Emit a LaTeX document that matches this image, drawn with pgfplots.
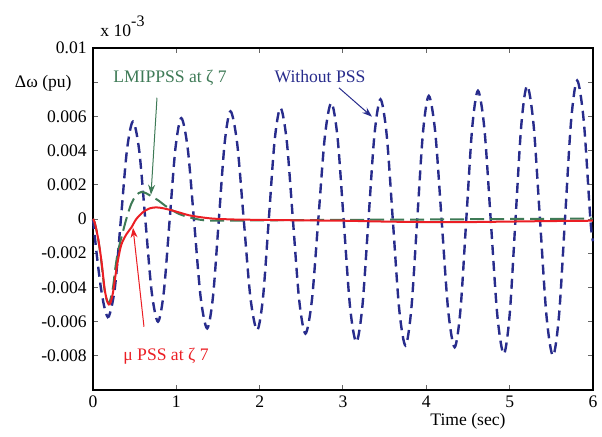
\documentclass[border=0pt]{standalone}
\usepackage{fontspec}
\setmainfont{Liberation Serif}
\usepackage{pgfplots}
\pgfplotsset{compat=1.18}
\usetikzlibrary{arrows.meta}

\definecolor{nopss}{RGB}{40,44,140}
\definecolor{lmi}{RGB}{62,122,86}
\definecolor{mupss}{RGB}{235,30,36}

\begin{document}
\fontsize{8.8}{10.5}\selectfont
\begin{tikzpicture}[every node/.append style={font=\fontsize{8.8}{10.5}\selectfont\rmfamily}]
\useasboundingbox (-46.5pt,-23pt) rectangle (254.5pt,195pt);
\begin{axis}[
  at={(0,0)}, anchor=south west,
  scale only axis, width=250pt, height=171pt,
  xmin=0, xmax=6, ymin=-0.01, ymax=0.01,
  xtick={0,1,2,3,4,5,6}, xticklabels={0,1,2,3,4,5,6},
  ytick={-0.008,-0.006,-0.004,-0.002,0,0.002,0.004,0.006,0.008,0.01},
  yticklabels={-0.008,-0.006,-0.004,-0.002,0,0.002,0.004,0.006,,0.01},
  scaled y ticks=false,
  tick align=inside, major tick length=2.5pt,
  tick style={black!60,line width=0.5pt},
  axis line style={line width=0.6pt},
  clip=false,
]
% without PSS
\addplot[nopss, line width=1.2pt, dash pattern=on 5pt off 3pt, smooth] coordinates {
(0,0) (0.0475,-0.00218) (0.095,-0.00403) (0.1425,-0.00527) (0.19,-0.0057)
(0.2625,-0.00403) (0.335,0) (0.4075,0.00403) (0.48,0.0057)
(0.555,0.00399) (0.63,-0.00015) (0.705,-0.00429) (0.78,-0.0060)
(0.85,-0.00426) (0.92,-0.00005) (0.99,0.00416) (1.06,0.0059)
(1.1375,0.00410) (1.215,-0.00025) (1.2925,-0.00460) (1.37,-0.0064)
(1.44,-0.00454) (1.51,-0.00005) (1.58,0.00444) (1.65,0.0063)
(1.73,0.00443) (1.81,-0.0001) (1.89,-0.00463) (1.97,-0.0065)
(2.04,-0.00460) (2.11,0) (2.18,0.00460) (2.25,0.0065)
(2.325,0.00457) (2.40,-0.0001) (2.475,-0.00477) (2.55,-0.0067)
(2.6275,-0.00472) (2.705,0.00005) (2.7825,0.00482) (2.86,0.0068)
(2.935,0.00475) (3.01,-0.0002) (3.085,-0.00515) (3.16,-0.0072)
(3.2325,-0.00512) (3.305,-0.0001) (3.3775,0.00492) (3.45,0.0070)
(3.525,0.00489) (3.60,-0.0002) (3.675,-0.00529) (3.75,-0.0074)
(3.82,-0.00526) (3.89,-0.0001) (3.96,0.00506) (4.03,0.0072)
(4.1075,0.00505) (4.185,-0.00015) (4.2625,-0.00535) (4.34,-0.0075)
(4.41,-0.00530) (4.48,0) (4.55,0.00530) (4.62,0.0075)
(4.6975,0.00525) (4.775,-0.0002) (4.8525,-0.00565) (4.93,-0.0079)
(5.00,-0.00560) (5.07,-0.00005) (5.14,0.00550) (5.21,0.0078)
(5.2875,0.00549) (5.365,-0.0001) (5.4425,-0.00569) (5.52,-0.0080)
(5.5925,-0.00564) (5.665,0.00005) (5.7375,0.00574) (5.81,0.0081)
(5.89,0.0057) (5.97,-0.0001) (6.0,-0.0013)
};
% LMI PSS
\addplot[lmi, line width=1pt, dash pattern=on 7pt off 3pt, smooth] coordinates {
(0,0) (0.02,-0.0002) (0.06,-0.0011) (0.10,-0.0025) (0.14,-0.0042) (0.17,-0.0048)
(0.19,-0.0049) (0.21,-0.0047) (0.24,-0.0040) (0.27,-0.0028) (0.30,-0.0019)
(0.34,-0.0011) (0.40,0.0) (0.46,0.0009) (0.52,0.0014) (0.58,0.00158)
(0.64,0.0015) (0.71,0.0013) (0.78,0.0011) (0.86,0.0008) (0.94,0.00054)
(1.04,0.00028) (1.14,0.00012) (1.24,0.0) (1.34,-0.00008) (1.5,-0.0001)
(2.0,-0.00008) (3.0,-0.00005) (4.0,-0.00003) (5.0,0.0) (6.0,0.00002)
};
% mu PSS
\addplot[mupss, line width=1pt, smooth] coordinates {
(0,0) (0.02,-0.0002) (0.06,-0.0011) (0.10,-0.0024) (0.14,-0.0041) (0.17,-0.0048)
(0.19,-0.0050) (0.21,-0.0049) (0.24,-0.0043) (0.27,-0.0033) (0.30,-0.0024)
(0.34,-0.0015) (0.40,-0.0009) (0.46,-0.0005) (0.52,0.0) (0.60,0.0004)
(0.68,0.00062) (0.76,0.00068) (0.85,0.00062) (0.95,0.0005) (1.05,0.00036)
(1.15,0.00022) (1.3,0.0001) (1.45,0.00002) (1.7,-0.00003) (2.0,-0.00005)
(2.5,-0.00008) (3.0,-0.0001) (3.5,-0.00015) (4.0,-0.00018) (4.5,-0.00018)
(5.0,-0.00015) (5.5,-0.00012) (6.0,-0.0001)
};
% annotations
\node[anchor=base east, inner sep=0pt] at (axis cs:-0.252,0.00768) {Δω (pu)};
\node[anchor=base west, inner sep=0pt] at (axis cs:0.084,0.01066) {x 10\raisebox{0.6em}{\fontsize{8}{8}\selectfont -3}};
\node[anchor=base, inner sep=0pt] at (axis cs:4.5,-0.0121) {Time (sec)};
\node[anchor=base, inner sep=0pt, text=lmi] at (axis cs:0.924,0.00797) {LMIPPSS at ζ 7};
\node[anchor=base, inner sep=0pt, text=nopss] at (axis cs:2.724,0.00797) {Without PSS};
\node[anchor=base, inner sep=0pt, text=mupss] at (axis cs:0.876,-0.00829) {μ PSS at ζ 7};
\draw[lmi, line width=0.5pt, -{Stealth[length=5pt,width=3.5pt]}] (axis cs:0.768,0.00709) -- (axis cs:0.696,0.00142);
\draw[nopss, line width=0.5pt, -{Stealth[length=5pt,width=3.5pt]}] (axis cs:2.952,0.00767) -- (axis cs:3.348,0.00598);
\draw[mupss, line width=0.5pt, -{Stealth[length=5pt,width=3.5pt]}] (axis cs:0.612,-0.0063) -- (axis cs:0.48,-0.00051);
\end{axis}
\end{tikzpicture}
\end{document}
